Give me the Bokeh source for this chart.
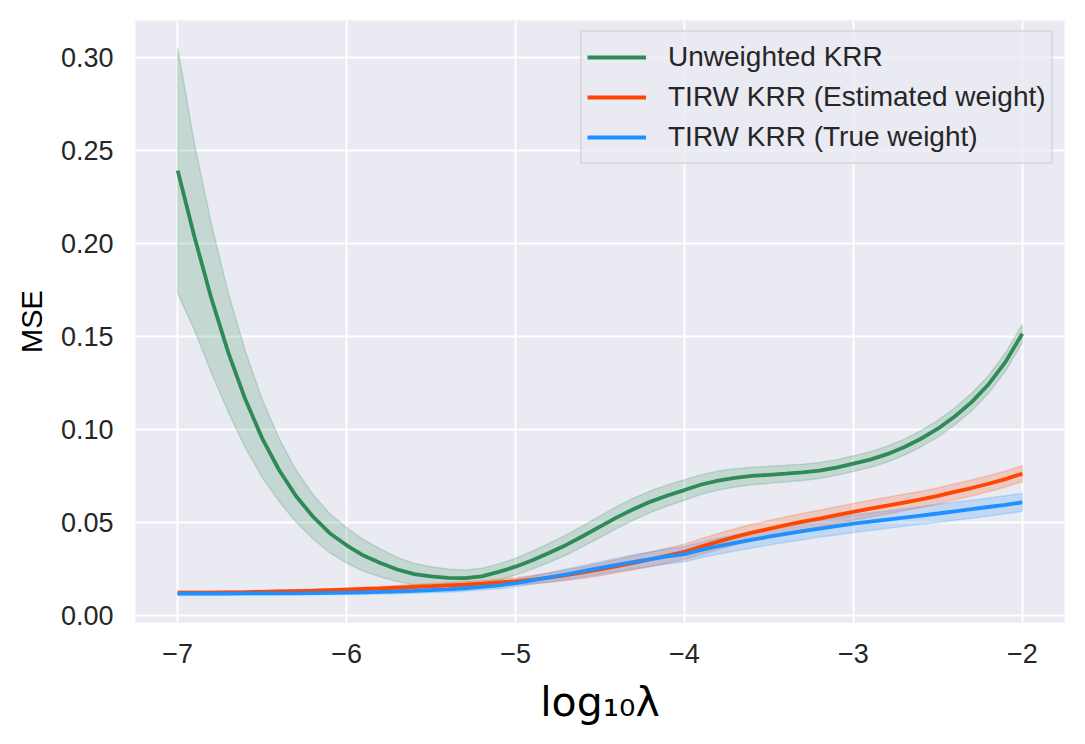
import numpy as np
from bokeh.plotting import figure
from bokeh.models import FixedTicker, Range1d
from bokeh.embed import file_html
from bokeh.resources import INLINE

# ---- data ----
log_lambda = [-7.0, -6.9, -6.8, -6.7, -6.6, -6.5, -6.4, -6.3, -6.2, -6.1,
              -6.0, -5.9, -5.8, -5.7, -5.6, -5.5, -5.4, -5.3, -5.2, -5.1,
              -5.0, -4.9, -4.8, -4.7, -4.6, -4.5, -4.4, -4.3, -4.2, -4.1,
              -4.0, -3.9, -3.8, -3.7, -3.6, -3.5, -3.4, -3.3, -3.2, -3.1,
              -3.0, -2.9, -2.8, -2.7, -2.6, -2.5, -2.4, -2.3, -2.2, -2.1, -2.0]

unweighted_mean = [0.239, 0.203, 0.170, 0.141, 0.116, 0.095, 0.078, 0.064, 0.053, 0.044,
                   0.0375, 0.032, 0.028, 0.0245, 0.022, 0.0208, 0.0200, 0.0198, 0.0208, 0.0232,
                   0.0260, 0.0295, 0.0335, 0.0377, 0.0425, 0.0475, 0.0525, 0.0570, 0.0610, 0.0643,
                   0.0672, 0.0702, 0.0723, 0.0738, 0.0748, 0.0754, 0.0760, 0.0767, 0.0777, 0.0793,
                   0.0814, 0.0836, 0.0865, 0.0902, 0.0948, 0.1002, 0.1068, 0.1145, 0.1240, 0.1360, 0.1513]
unweighted_err = [0.066, 0.050, 0.040, 0.032, 0.026, 0.021, 0.017, 0.014, 0.012, 0.0105,
                  0.0095, 0.0085, 0.0075, 0.0065, 0.0058, 0.0052, 0.0047, 0.0044, 0.0043, 0.0043,
                  0.0045, 0.0048, 0.0051, 0.0054, 0.0056, 0.0058, 0.0059, 0.0059, 0.0058, 0.0057,
                  0.0055, 0.0053, 0.0051, 0.0049, 0.0047, 0.0046, 0.0045, 0.0044, 0.0043, 0.0042,
                  0.0042, 0.0042, 0.0043, 0.0043, 0.0044, 0.0045, 0.0046, 0.0047, 0.0048, 0.0049, 0.0050]

estimated_mean = [0.0120, 0.0120, 0.0121, 0.0122, 0.0123, 0.0125, 0.0127, 0.0129, 0.0131, 0.0134,
                  0.0137, 0.0140, 0.0143, 0.0147, 0.0151, 0.0155, 0.0160, 0.0164, 0.0169, 0.0175,
                  0.0181, 0.0190, 0.0201, 0.0214, 0.0229, 0.0245, 0.0263, 0.0281, 0.0300, 0.0320,
                  0.0340, 0.0368, 0.0395, 0.0420, 0.0443, 0.0463, 0.0483, 0.0502, 0.0519, 0.0537,
                  0.0555, 0.0572, 0.0588, 0.0605, 0.0622, 0.0641, 0.0662, 0.0683, 0.0706, 0.0731, 0.0760]
estimated_err = [0.0008, 0.0008, 0.0008, 0.0008, 0.0008, 0.0008, 0.0008, 0.0008, 0.0008, 0.0008,
                 0.0009, 0.0010, 0.0011, 0.0012, 0.0013, 0.0014, 0.0015, 0.0016, 0.0017, 0.0018,
                 0.0020, 0.0022, 0.0025, 0.0028, 0.0031, 0.0034, 0.0036, 0.0038, 0.0039, 0.0040,
                 0.0041, 0.0042, 0.0043, 0.0044, 0.0045, 0.0045, 0.0045, 0.0045, 0.0045, 0.0045,
                 0.0045, 0.0045, 0.0045, 0.0044, 0.0044, 0.0044, 0.0044, 0.0043, 0.0043, 0.0043, 0.0043]

true_mean = [0.0115, 0.0115, 0.0115, 0.0115, 0.0116, 0.0116, 0.0117, 0.0117, 0.0118, 0.0119,
             0.0120, 0.0122, 0.0124, 0.0127, 0.0130, 0.0134, 0.0138, 0.0144, 0.0151, 0.0160,
             0.0172, 0.0187, 0.0203, 0.0219, 0.0236, 0.0253, 0.0270, 0.0286, 0.0301, 0.0315,
             0.0328, 0.0350, 0.0370, 0.0388, 0.0405, 0.0421, 0.0437, 0.0451, 0.0465, 0.0478,
             0.0491, 0.0502, 0.0513, 0.0524, 0.0535, 0.0546, 0.0558, 0.0569, 0.0581, 0.0593, 0.0606]
true_err = [0.0008, 0.0008, 0.0008, 0.0008, 0.0008, 0.0008, 0.0008, 0.0008, 0.0008, 0.0008,
            0.0009, 0.0010, 0.0011, 0.0012, 0.0013, 0.0014, 0.0015, 0.0016, 0.0017, 0.0018,
            0.0020, 0.0022, 0.0025, 0.0028, 0.0031, 0.0034, 0.0036, 0.0038, 0.0039, 0.0040,
            0.0041, 0.0042, 0.0043, 0.0044, 0.0045, 0.0045, 0.0046, 0.0046, 0.0046, 0.0047,
            0.0047, 0.0047, 0.0047, 0.0047, 0.0047, 0.0048, 0.0048, 0.0048, 0.0048, 0.0048, 0.0048]

series = [
    ("Unweighted KRR", unweighted_mean, unweighted_err, "#2E8B57"),
    ("TIRW KRR (Estimated weight)", estimated_mean, estimated_err, "#FF4500"),
    ("TIRW KRR (True weight)", true_mean, true_err, "#1E90FF"),
]

x_ticks = [-7, -6, -5, -4, -3, -2]
y_ticks = [0.00, 0.05, 0.10, 0.15, 0.20, 0.25, 0.30]
x_tick_labels = ["−7", "−6", "−5", "−4", "−3", "−2"]
y_tick_labels = ["0.00", "0.05", "0.10", "0.15", "0.20", "0.25", "0.30"]
y_title = "MSE"
x_title = "log₁₀λ"

# ---- ranges with matplotlib-like 5% margins ----
x = np.array(log_lambda)
lows = [np.array(m) - np.array(e) for _, m, e, _ in series]
highs = [np.array(m) + np.array(e) for _, m, e, _ in series]
ymin = min(l.min() for l in lows)
ymax = max(h.max() for h in highs)
xpad = 0.05 * (x.max() - x.min())
ypad = 0.05 * (ymax - ymin)

p = figure(width=1073, height=728, output_backend="svg", toolbar_location=None,
           x_range=Range1d(x.min() - xpad, x.max() + xpad),
           y_range=Range1d(ymin - ypad, ymax + ypad),
           frame_width=929, frame_height=602,
           min_border_left=135, min_border_right=9, min_border_top=20, min_border_bottom=106)

p.background_fill_color = "#EAEAF2"
p.border_fill_color = "white"
p.outline_line_color = None

for (name, m, e, c), lo, hi in zip(series, lows, highs):
    xs = list(x) + list(x[::-1])
    ys = list(hi) + list(lo[::-1])
    p.patch(xs, ys, fill_color=c, fill_alpha=0.2, line_color=c, line_alpha=0.2, line_width=1.5)
for name, m, e, c in series:
    p.line(log_lambda, m, line_color=c, line_width=3.8, legend_label=name)

# axes
for ax in (p.xaxis[0], p.yaxis[0]):
    ax.axis_line_color = None
    ax.major_tick_line_color = None
    ax.minor_tick_line_color = None
    ax.major_tick_out = 0
    ax.major_tick_in = 0
    ax.major_label_text_font = "Liberation Sans"
    ax.major_label_text_font_size = "27px"
    ax.major_label_text_color = "#262626"

p.xaxis.ticker = FixedTicker(ticks=x_ticks)
p.yaxis.ticker = FixedTicker(ticks=y_ticks)
p.xaxis.major_label_overrides = {t: l for t, l in zip(x_ticks, x_tick_labels)}
p.yaxis.major_label_overrides = {t: l for t, l in zip(y_ticks, y_tick_labels)}
p.xaxis.major_label_standoff = 21
p.yaxis.major_label_standoff = 22

p.yaxis.axis_label = y_title
p.yaxis.axis_label_text_font = "Liberation Sans"
p.yaxis.axis_label_text_font_size = "29px"
p.yaxis.axis_label_text_font_style = "normal"
p.yaxis.axis_label_text_color = "#000000"
p.yaxis.axis_label_standoff = 10

p.xaxis.axis_label = x_title
p.xaxis.axis_label_text_font = "DejaVu Sans"
p.xaxis.axis_label_text_font_size = "41px"
p.xaxis.axis_label_text_font_style = "normal"
p.xaxis.axis_label_text_color = "#000000"
p.xaxis.axis_label_standoff = 12

p.xgrid.grid_line_color = "white"
p.ygrid.grid_line_color = "white"
p.xgrid.grid_line_width = 2
p.ygrid.grid_line_width = 2

lg = p.legend[0]
lg.location = (445, 458)
lg.label_text_font = "Liberation Sans"
lg.label_text_font_size = "28px"
lg.label_text_color = "#262626"
lg.glyph_width = 59
lg.glyph_height = 40
lg.label_height = 40
lg.label_standoff = 22
lg.spacing = 0
lg.padding = 5
lg.margin = 0
lg.background_fill_color = "#EAEAF2"
lg.background_fill_alpha = 0.8
lg.border_line_color = "#CCCCCC"
lg.border_line_width = 2

open("out.html", "w").write(file_html(p, INLINE))
